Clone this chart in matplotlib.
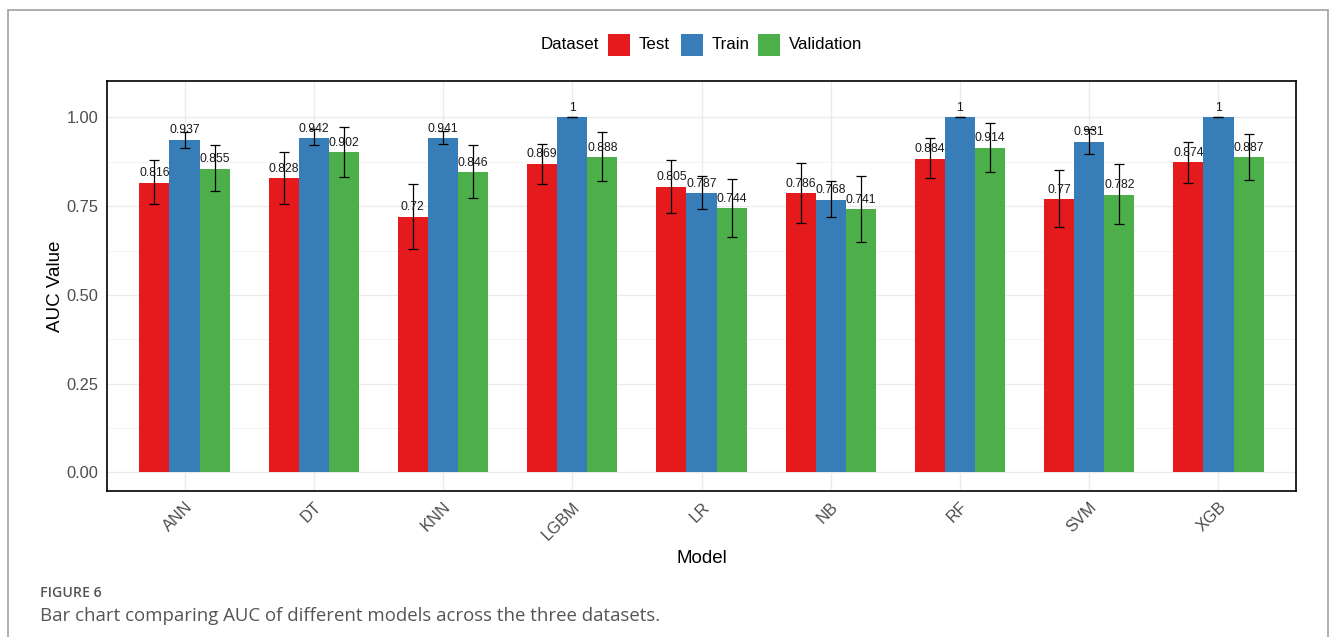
import matplotlib
matplotlib.use("Agg")
import matplotlib.pyplot as plt
from matplotlib.patches import Rectangle
from matplotlib.ticker import MultipleLocator
import numpy as np

models = ["ANN", "DT", "KNN", "LGBM", "LR", "NB", "RF", "SVM", "XGB"]
datasets = ["Test", "Train", "Validation"]
colors = ["#E41A1C", "#377EB8", "#4DAF4A"]

auc_test = [0.816, 0.828, 0.72, 0.869, 0.805, 0.786, 0.884, 0.77, 0.874]
auc_train = [0.937, 0.942, 0.941, 1.0, 0.787, 0.768, 1.0, 0.931, 1.0]
auc_val = [0.855, 0.902, 0.846, 0.888, 0.744, 0.741, 0.914, 0.782, 0.887]

# 95% confidence interval bounds of the AUC
ci_low_test = [0.757, 0.757, 0.630, 0.813, 0.731, 0.703, 0.828, 0.690, 0.815]
ci_high_test = [0.879, 0.902, 0.811, 0.926, 0.881, 0.871, 0.942, 0.853, 0.932]
ci_low_train = [0.915, 0.921, 0.926, 1.0, 0.743, 0.718, 1.0, 0.898, 1.0]
ci_high_train = [0.960, 0.966, 0.961, 1.0, 0.836, 0.822, 1.0, 0.968, 1.0]
ci_low_val = [0.792, 0.833, 0.772, 0.821, 0.664, 0.649, 0.847, 0.699, 0.825]
ci_high_val = [0.921, 0.973, 0.923, 0.960, 0.826, 0.836, 0.985, 0.868, 0.952]

y_ticks = [0.00, 0.25, 0.50, 0.75, 1.00]

values = [auc_test, auc_train, auc_val]
lows = [ci_low_test, ci_low_train, ci_low_val]
highs = [ci_high_test, ci_high_train, ci_high_val]

W, H = 1335, 637
fig = plt.figure(figsize=(W / 100, H / 100), dpi=100)
fig.patch.set_facecolor("white")

# outer frame of the figure panel
fig.patches.append(Rectangle((8 / W, -0.05), 1320 / W, 1 - 10 / H + 0.05,
                             transform=fig.transFigure, fill=False,
                             edgecolor="#a8a8a8", linewidth=1.3))

ax = fig.add_axes([107 / W, 1 - 491 / H, (1296 - 107) / W, (491 - 81) / H])

font = "Liberation Sans"
dodge = 0.7
bw = dodge / len(datasets)
x = np.arange(len(models))

for j, (ds, col) in enumerate(zip(datasets, colors)):
    xs = x + (j - 1) * bw
    v = np.array(values[j])
    lo = np.array(lows[j])
    hi = np.array(highs[j])
    ax.bar(xs, v, width=bw, color=col, edgecolor="none", zorder=2)
    ax.errorbar(xs, v, yerr=[v - lo, hi - v], fmt="none", ecolor="black",
                elinewidth=0.9, capsize=3.6, capthick=0.9, zorder=3)
    for xi, vi in zip(xs, v):
        ax.annotate(f"{vi:g}", (xi, vi), xytext=(0, 2.5), textcoords="offset points",
                    ha="center", va="bottom", fontsize=8.8, family=font,
                    color="#1a1a1a", zorder=4)

ax.set_xlim(-0.6, len(models) - 0.4)
ax.set_ylim(-0.0525, 1.1025)
ax.set_xticks(x)
ax.set_xticklabels(models, rotation=45, ha="right", va="top",
                   rotation_mode="anchor", fontsize=11.8, family=font, color="#4d4d4d")
ax.set_yticks(y_ticks)
ax.set_yticklabels([f"{t:.2f}" for t in y_ticks], fontsize=11.8, family=font, color="#4d4d4d")
ax.yaxis.set_minor_locator(MultipleLocator(0.125))
ax.tick_params(axis="both", which="both", length=0)
ax.tick_params(axis="x", pad=6)
ax.tick_params(axis="y", pad=6)

ax.set_axisbelow(True)
ax.grid(True, which="major", color="#ebebeb", linewidth=1.0)
ax.grid(True, which="minor", axis="y", color="#f3f3f3", linewidth=0.7)

for s in ax.spines.values():
    s.set_edgecolor("black")
    s.set_linewidth(1.2)

ax.set_xlabel("Model", fontsize=13.5, family=font, color="black", labelpad=5)
ax.set_ylabel("AUC Value", fontsize=13.5, family=font, color="black", labelpad=2)

# legend across the top
leg_y = 1 - 44.5 / H
fig.text(541 / W, leg_y, "Dataset", ha="left", va="center", fontsize=12.2,
         family=font, color="black")
key_x = [608, 681, 758]
label_x = [639, 712, 789]
for ds, col, kx, lx in zip(datasets, colors, key_x, label_x):
    fig.patches.append(Rectangle((kx / W, 1 - 56 / H), 22 / W, 22 / H,
                                 transform=fig.transFigure, facecolor=col,
                                 edgecolor="none"))
    fig.text(lx / W, leg_y, ds, ha="left", va="center", fontsize=12.2,
             family=font, color="black")

# caption
fig.text(40 / W, 1 - 593 / H, "FIGURE 6", ha="left", va="center", fontsize=10.2,
         family="Open Sans", weight="semibold", color="#555555")
fig.text(40 / W, 1 - 616 / H,
         "Bar chart comparing AUC of different models across the three datasets.",
         ha="left", va="center", fontsize=13.4, family="Open Sans", color="#555555")

fig.savefig("out.png", dpi=100)
